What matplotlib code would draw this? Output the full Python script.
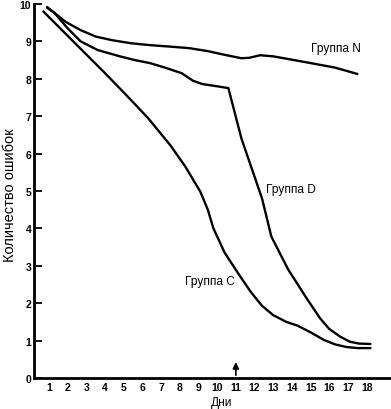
import matplotlib
matplotlib.use("Agg")
import matplotlib.pyplot as plt

plt.rcParams['font.family'] = ['Liberation Sans', 'DejaVu Sans']

# данные
days_n = [0.9, 1.3, 1.9, 2.7, 3.5, 4.4, 5.4, 6.4, 7.5, 8.5, 9.5, 10.5, 11.3, 11.7, 12.3, 13.0, 13.9, 15.0, 16.3, 17.5]
err_n = [9.92, 9.76, 9.52, 9.3, 9.13, 9.03, 8.95, 8.9, 8.86, 8.82, 8.74, 8.63, 8.55, 8.56, 8.63, 8.6, 8.52, 8.42, 8.3, 8.13]

days_d = [0.9, 1.3, 2.0, 2.7, 3.6, 4.8, 5.6, 6.4, 7.2, 8.1, 8.7, 9.2, 10.0, 10.6, 11.3, 12.4, 12.9, 13.8, 14.8, 15.5, 16.0, 16.6, 17.1, 17.6, 18.2]
err_d = [9.9, 9.76, 9.35, 9.0, 8.77, 8.6, 8.5, 8.42, 8.3, 8.15, 7.95, 7.86, 7.8, 7.75, 6.4, 4.8, 3.78, 2.9, 2.12, 1.6, 1.31, 1.1, 0.97, 0.92, 0.91]

days_c = [0.7, 2.0, 3.0, 4.0, 5.3, 6.3, 7.5, 8.3, 9.1, 9.5, 9.8, 10.4, 11.2, 11.8, 12.4, 13.0, 13.7, 14.3, 15.0, 15.7, 16.3, 16.9, 17.5, 18.2]
err_c = [9.8, 9.15, 8.65, 8.15, 7.48, 6.95, 6.22, 5.65, 4.98, 4.5, 4.0, 3.35, 2.74, 2.3, 1.93, 1.68, 1.5, 1.4, 1.22, 1.02, 0.9, 0.83, 0.8, 0.8]

x_ticks = list(range(1, 19))
y_ticks = list(range(0, 11))

fig = plt.figure(figsize=(3.91, 4.10), dpi=100)
ax = fig.add_axes([34 / 391, 31 / 410, 1 - 34 / 391, 374 / 410])

for xs, ys in [(days_n, err_n), (days_d, err_d), (days_c, err_c)]:
    ax.plot(xs, ys, color='black', lw=1.7, solid_joinstyle='round', solid_capstyle='round')

ax.set_xlim(0.2, 19.3)
ax.set_ylim(0, 10)
ax.set_xticks(x_ticks)
ax.set_yticks(y_ticks)
ax.tick_params(axis='x', length=0, pad=3, labelsize=7.5)
ax.tick_params(axis='y', length=6, width=1.3, direction='in', pad=2, labelsize=7.5)
for lbl in ax.get_xticklabels() + ax.get_yticklabels():
    lbl.set_fontweight('bold')

for s in ['top', 'right']:
    ax.spines[s].set_visible(False)
for s in ['left', 'bottom']:
    ax.spines[s].set_linewidth(2)

ax.annotate('', xy=(11, 0.5), xytext=(11, 0.0),
            arrowprops=dict(arrowstyle='-|>', color='black', lw=1.2, mutation_scale=9))

ax.text(15.0, 8.82, 'Группа N', fontsize=8.6, ha='left', va='center')
ax.text(12.6, 5.06, 'Группа D', fontsize=8.6, ha='left', va='center')
ax.text(8.3, 2.6, 'Группа C', fontsize=8.6, ha='left', va='center')

fig.text(222 / 391, 1 - 403 / 410, 'Дни', fontsize=8.6, ha='center', va='center')
fig.text(10 / 391, 1 - 195 / 410, 'Количество ошибок', fontsize=10.5, rotation=90,
         ha='center', va='center')

fig.savefig('out.png', dpi=100)
